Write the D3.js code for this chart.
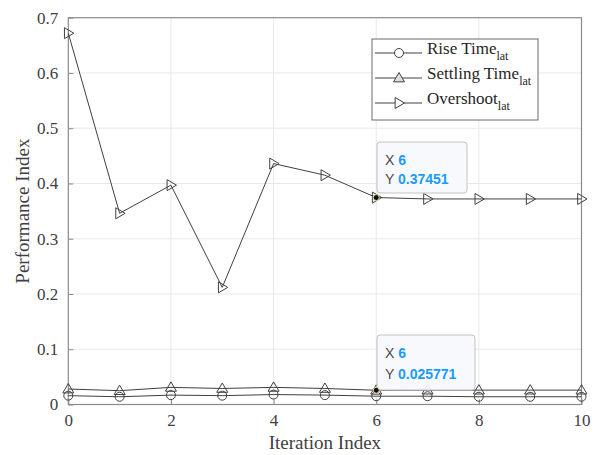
<!DOCTYPE html>
<html>
<head>
<meta charset="utf-8">
<script src="https://cdn.jsdelivr.net/npm/d3@7"></script>
<style>
  body { margin: 0; background: #fff; }
  svg { display: block; }
  .tick text { font-family: "Liberation Serif", "Times New Roman", serif !important; }
</style>
</head>
<body>
<div class="canvas"></div>
<script>
// data
const iterations = [0, 1, 2, 3, 4, 5, 6, 7, 8, 9, 10];
const riseTime = [0.016, 0.014, 0.017, 0.016, 0.018, 0.017, 0.015, 0.015, 0.014, 0.014, 0.014];
const settlingTime = [0.028, 0.025, 0.031, 0.029, 0.031, 0.029, 0.025771, 0.026, 0.026, 0.026, 0.026];
const overshoot = [0.672, 0.346, 0.397, 0.212, 0.436, 0.415, 0.37451, 0.372, 0.372, 0.372, 0.372];
const xTicks = [0, 2, 4, 6, 8, 10];
const yTicks = [0, 0.1, 0.2, 0.3, 0.4, 0.5, 0.6, 0.7];

const series = [
  {name: 'Rise Time', values: riseTime, marker: 'circle'},
  {name: 'Settling Time', values: settlingTime, marker: 'up'},
  {name: 'Overshoot', values: overshoot, marker: 'right'}
];

// datatips: [series index, point index]
const tips = [[2, 6], [1, 6]];

const dims = {width: 597, height: 455};
const margin = {top: 17.7, right: 15.5, bottom: 50.5, left: 68.3};

const svg = d3.select('.canvas')
  .append('svg')
  .attr('width', dims.width)
  .attr('height', dims.height);

const x = d3.scaleLinear().domain([0, 10]).range([margin.left, dims.width - margin.right]);
const y = d3.scaleLinear().domain([0, 0.7]).range([dims.height - margin.bottom, margin.top]);

const serif = '"Liberation Serif", "Times New Roman", serif';
const sans = '"Liberation Sans", Arial, Helvetica, sans-serif';
const axisCol = '#8a8a8a';
const lineCol = '#404040';

// grid
const grid = svg.append('g');
grid.selectAll('.gx').data(xTicks.slice(1, -1)).join('line')
  .attr('x1', d => x(d)).attr('x2', d => x(d))
  .attr('y1', y(0)).attr('y2', y(0.7))
  .attr('stroke', '#e8e8e8').attr('stroke-width', 1);
grid.selectAll('.gy').data(yTicks.slice(1, -1)).join('line')
  .attr('x1', x(0)).attr('x2', x(10))
  .attr('y1', d => y(d)).attr('y2', d => y(d))
  .attr('stroke', '#e8e8e8').attr('stroke-width', 1);

// axes with inward ticks
const xAxis = svg.append('g')
  .attr('transform', `translate(0, ${y(0)})`)
  .call(d3.axisBottom(x).tickValues(xTicks).tickSize(-5).tickPadding(9).tickFormat(d3.format('d')));
const yAxis = svg.append('g')
  .attr('transform', `translate(${x(0)}, 0)`)
  .call(d3.axisLeft(y).tickValues(yTicks).tickSize(-5).tickPadding(10).tickFormat(d => d === 0 ? '0' : d3.format('.1f')(d)));

[xAxis, yAxis].forEach(a => {
  a.attr('font-family', serif).attr('font-size', 17);
  a.select('.domain').remove();
  a.selectAll('.tick line').attr('stroke', axisCol);
  a.selectAll('.tick text').attr('fill', '#404040')
    .style('font-size', '17px');
});

// box
svg.append('rect')
  .attr('x', x(0)).attr('y', y(0.7))
  .attr('width', x(10) - x(0)).attr('height', y(0) - y(0.7))
  .attr('fill', 'none').attr('stroke', axisCol).attr('stroke-width', 1.2);

// axis labels
svg.append('text')
  .attr('x', (x(0) + x(10)) / 2).attr('y', 449)
  .attr('text-anchor', 'middle')
  .attr('font-family', serif).attr('font-size', 19).attr('fill', '#404040')
  .text('Iteration Index');
svg.append('text')
  .attr('transform', `translate(29, ${(y(0) + y(0.7)) / 2}) rotate(-90)`)
  .attr('text-anchor', 'middle')
  .attr('font-family', serif).attr('font-size', 19).attr('fill', '#404040')
  .text('Performance Index');

// marker drawing
const drawMarker = (g, type, cx, cy, fill) => {
  if (type === 'circle') {
    g.append('circle').attr('cx', cx).attr('cy', cy).attr('r', 4.5)
      .attr('fill', fill).attr('stroke', lineCol).attr('stroke-width', 1);
  } else if (type === 'up') {
    const s = 5.5;
    g.append('path')
      .attr('d', `M${cx},${cy - s}L${cx + s},${cy + s * 0.7}L${cx - s},${cy + s * 0.7}Z`)
      .attr('fill', fill).attr('stroke', lineCol).attr('stroke-width', 1);
  } else {
    const s = 5.5;
    g.append('path')
      .attr('d', `M${cx + s},${cy}L${cx - s * 0.7},${cy - s}L${cx - s * 0.7},${cy + s}Z`)
      .attr('fill', fill).attr('stroke', lineCol).attr('stroke-width', 1);
  }
};

const line = d3.line()
  .x((d, i) => x(iterations[i]))
  .y(d => y(d));

const plot = svg.append('g');
series.forEach(s => {
  plot.append('path')
    .datum(s.values)
    .attr('d', line)
    .attr('fill', 'none')
    .attr('stroke', lineCol)
    .attr('stroke-width', 1);
  const mg = plot.append('g');
  s.values.forEach((v, i) => drawMarker(mg, s.marker, x(iterations[i]), y(v), 'none'));
});

// legend
const legend = svg.append('g');
legend.append('rect')
  .attr('x', 372).attr('y', 39).attr('width', 166).attr('height', 81)
  .attr('fill', '#fff').attr('stroke', '#6a6a6a').attr('stroke-width', 1);
series.forEach((s, i) => {
  const ly = 53 + i * 25;
  legend.append('line')
    .attr('x1', 375).attr('x2', 422).attr('y1', ly).attr('y2', ly)
    .attr('stroke', lineCol).attr('stroke-width', 1);
  drawMarker(legend, s.marker, 399, ly, s.marker === 'up' ? '#ddd' : '#fff');
  const t = legend.append('text')
    .attr('x', 427).attr('y', ly + 1)
    .attr('font-family', serif).attr('font-size', 17).attr('fill', '#262626');
  t.append('tspan').text(s.name);
  t.append('tspan').attr('dy', 6).attr('font-size', 12).text('lat');
});

// datatips
const tipBoxes = [
  {x: 377, y: 142, w: 90, h: 51},
  {x: 377, y: 335, w: 98, h: 55}
];
tips.forEach(([si, pi], k) => {
  const b = tipBoxes[k];
  const v = series[si].values[pi];
  const g = svg.append('g');
  g.append('rect')
    .attr('x', b.x).attr('y', b.y).attr('width', b.w).attr('height', b.h)
    .attr('rx', 3)
    .attr('fill', 'rgba(248,249,252,0.93)').attr('stroke', '#c2c2c2').attr('stroke-width', 1);
  const rows = [['X', iterations[pi]], ['Y', v]];
  rows.forEach((r, j) => {
    const t = g.append('text')
      .attr('x', b.x + 8).attr('y', b.y + 23 + j * 19 + (k === 1 ? 2 * j : 0))
      .attr('font-family', sans).attr('font-size', 14);
    t.append('tspan').attr('fill', '#4a4a4a').text(r[0] + ' ');
    t.append('tspan').attr('fill', '#1a9bff').attr('font-weight', 'bold').text(r[1]);
  });
  g.append('circle')
    .attr('cx', x(iterations[pi])).attr('cy', y(v)).attr('r', 3)
    .attr('fill', '#111').attr('stroke', '#e8e0a0').attr('stroke-width', 1);
});
</script>
</body>
</html>
